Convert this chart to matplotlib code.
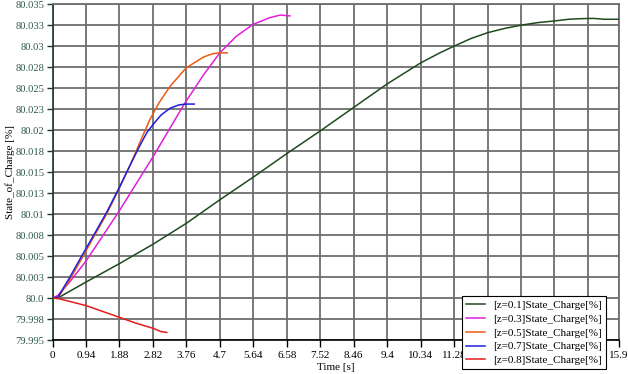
import matplotlib
matplotlib.use("Agg")
import matplotlib.pyplot as plt

# ---- data ----
t_z01 = [0, 0.15, 0.94, 1.88, 2.82, 3.76, 4.7, 5.64, 6.58, 7.52, 8.46, 9.4, 10.34,
         10.88, 11.28, 11.75, 12.22, 12.69, 13.16, 13.63, 14.1, 14.5, 14.9, 15.2,
         15.5, 15.9]
soc_z01 = [80.0, 80.0, 80.0019, 80.0041, 80.0064, 80.0089, 80.0117, 80.0144, 80.0172,
           80.0199, 80.0227, 80.0255, 80.0280, 80.0292, 80.0300, 80.0309, 80.0316,
           80.0321, 80.0325, 80.0328, 80.0330, 80.0332, 80.03328, 80.0333, 80.0332,
           80.0332]

t_z03 = [0, 0.15, 0.5, 0.94, 1.88, 2.82, 3.7, 4.23, 4.7, 5.17, 5.64, 6.11, 6.4, 6.67]
soc_z03 = [80.0, 80.0003, 80.0020, 80.0044, 80.0104, 80.0168, 80.0231, 80.0265,
           80.0292, 80.0312, 80.0326, 80.0334, 80.0337, 80.0336]

t_z05 = [0, 0.15, 0.49, 0.82, 1.2, 1.52, 1.88, 2.2, 2.46, 2.74, 3.0, 3.3, 3.75,
         4.24, 4.5, 4.7, 4.91]
soc_z05 = [80.0, 80.0, 80.0022, 80.0047, 80.0076, 80.0100, 80.0131, 80.0160, 80.0186,
           80.0213, 80.0233, 80.0252, 80.0274, 80.0287, 80.0291, 80.0292, 80.0292]

t_z07 = [0, 0.15, 0.49, 0.82, 1.2, 1.52, 1.88, 2.2, 2.46, 2.65, 2.83, 3.05, 3.3,
         3.55, 3.75, 3.98]
soc_z07 = [80.0, 80.0001, 80.0025, 80.0050, 80.0078, 80.0102, 80.0132, 80.0160,
           80.0182, 80.0197, 80.0207, 80.0218, 80.0226, 80.0230, 80.0231, 80.0231]

t_z08 = [0, 0.2, 0.94, 1.41, 1.88, 2.35, 2.82, 3.05, 3.21]
soc_z08 = [80.0, 79.9999, 79.9991, 79.9984, 79.9977, 79.9970, 79.9964, 79.9960, 79.9959]

series_labels = ["[z=0.1]State_Charge[%]", "[z=0.3]State_Charge[%]",
                 "[z=0.5]State_Charge[%]", "[z=0.7]State_Charge[%]",
                 "[z=0.8]State_Charge[%]"]

x_ticks = [0, 0.94, 1.88, 2.82, 3.76, 4.7, 5.64, 6.58, 7.52, 8.46, 9.4, 10.34,
           11.28, 12.22, 13.16, 14.1, 15.04, 15.9]
x_ticklabels = ["0", "0.94", "1.88", "2.82", "3.76", "4.7", "5.64", "6.58", "7.52",
                "8.46", "9.4", "10.34", "11.28", "12.22", "13.16", "14.1", "15.04", "15.9"]
y_ticks = [79.995, 79.9975, 80.0, 80.0025, 80.005, 80.0075, 80.01, 80.0125, 80.015,
           80.0175, 80.02, 80.0225, 80.025, 80.0275, 80.03, 80.0325, 80.035]
y_ticklabels = ["79.995", "79.998", "80.0", "80.003", "80.005", "80.008", "80.01",
                "80.013", "80.015", "80.018", "80.02", "80.023", "80.025", "80.028",
                "80.03", "80.033", "80.035"]

colors = ["#1f4a1f", "#e020d8", "#ec5a12", "#1f1fe0", "#e41c1c"]

plt.rcParams['font.family'] = ['Liberation Serif', 'DejaVu Serif']

fig = plt.figure(figsize=(6.28, 3.74), dpi=100)
ax = fig.add_axes([0.0836, 0.0909, 0.9014, 0.898])

series = [(t_z01, soc_z01), (t_z03, soc_z03), (t_z05, soc_z05),
          (t_z07, soc_z07), (t_z08, soc_z08)]
for (t, v), c, lab in zip(series, colors, series_labels):
    ax.plot(t, v, color=c, lw=1.1, label=lab, zorder=3)

ax.set_xlim(0, 15.9)
ax.set_ylim(79.995, 80.035)
ax.set_xticks(x_ticks)
ax.set_xticklabels(x_ticklabels)
ax.set_yticks(y_ticks)
ax.set_yticklabels(y_ticklabels)
ax.grid(True, color="#6e6e6e", lw=1.3, zorder=1)
ax.set_axisbelow(True)

for s in ["top", "right"]:
    ax.spines[s].set_color("#6e6e6e")
    ax.spines[s].set_linewidth(1.3)
ax.spines["left"].set_color("#1a3a2a")
ax.spines["bottom"].set_color("black")
ax.spines["left"].set_linewidth(1.2)
ax.spines["bottom"].set_linewidth(1.2)

ax.tick_params(axis="x", labelsize=8, colors="black", length=5, width=1.0, pad=3)
ax.tick_params(axis="y", labelsize=7.6, length=4, width=1.0, pad=2,
               labelcolor="#2e5a45", color="#1a3a2a")

ax.set_xlabel("Time [s]", fontsize=8, labelpad=2)
ax.set_ylabel("State_of_Charge [%]", fontsize=8)
ax.yaxis.set_label_coords(-0.067, 0.5)

leg = ax.legend(loc="lower left", bbox_to_anchor=(0.736, 0.013),
                bbox_transform=fig.transFigure, fontsize=8, frameon=True,
                fancybox=False, framealpha=1, edgecolor="black",
                handlelength=1.7, handletextpad=0.7, labelspacing=0.36,
                borderpad=0.35, borderaxespad=0)
leg.get_frame().set_linewidth(0.8)
leg.set_zorder(10)

fig.savefig("out.png", dpi=100)
